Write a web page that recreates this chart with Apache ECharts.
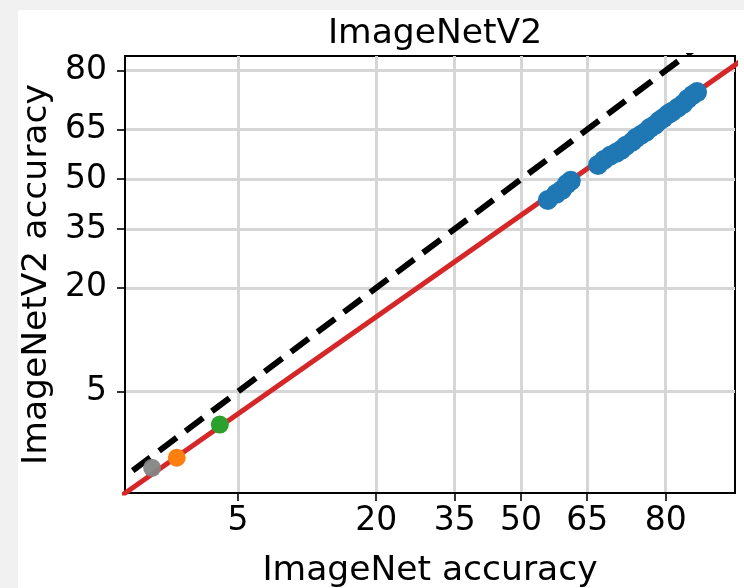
<!DOCTYPE html>
<html><head><meta charset="utf-8">
<script src="https://cdn.jsdelivr.net/npm/echarts@6/dist/echarts.min.js"></script>
<style>html,body{margin:0;padding:0;background:#f1f1f1}#c{width:744px;height:588px}</style>
</head><body><div id="c"></div>
<script>
// ---- data (accuracy in percent) ----
const tickValues = [5, 20, 35, 50, 65, 80];
const xRange = [1.067, 89.33];
const yRange = [0.755, 83.0];
const blueX = [56.2, 58.1, 59.4, 60.5, 61.4, 67.3, 68.5, 69.8, 71.0, 72.0, 72.9, 74.1, 74.8, 75.7, 76.6, 77.3, 78.2, 78.9, 79.6, 80.4, 81.0, 81.9, 82.7, 83.4, 84.1, 84.7];
const blueY = [43.6, 45.5, 46.7, 48.5, 49.5, 54.4, 55.9, 57.2, 58.1, 59.0, 60.2, 61.4, 62.5, 63.4, 64.3, 65.4, 66.3, 67.4, 68.2, 69.3, 69.9, 71.0, 72.0, 73.3, 74.3, 75.0];
const grayPoint = [1.6, 1.27];
const orangePoint = [2.27, 1.55];
const greenPoint = [4.0, 2.87];
const fitLineX = [0.5, 95];
const fitLineY = [0.36, 89.6];
const diagLineX = [1.2, 95];
const diagLineY = [1.2, 95];

// ---- probit helpers ----
function probit(p) {
  const a = [-3.969683028665376e+01, 2.209460984245205e+02, -2.759285104469687e+02, 1.383577518672690e+02, -3.066479806614716e+01, 2.506628277459239e+00];
  const b = [-5.447609879822406e+01, 1.615858368580409e+02, -1.556989798598866e+02, 6.680131188771972e+01, -1.328068155288572e+01];
  const c = [-7.784894002430293e-03, -3.223964580411365e-01, -2.400758277161838e+00, -2.549732539343734e+00, 4.374664141464968e+00, 2.938163982698783e+00];
  const d = [7.784695709041462e-03, 3.224671290700398e-01, 2.445134137142996e+00, 3.754408661907416e+00];
  const pl = 0.02425, ph = 1 - pl;
  let q, r;
  if (p < pl) { q = Math.sqrt(-2 * Math.log(p)); return (((((c[0]*q+c[1])*q+c[2])*q+c[3])*q+c[4])*q+c[5]) / ((((d[0]*q+d[1])*q+d[2])*q+d[3])*q+1); }
  if (p <= ph) { q = p - 0.5; r = q*q; return (((((a[0]*r+a[1])*r+a[2])*r+a[3])*r+a[4])*r+a[5])*q / (((((b[0]*r+b[1])*r+b[2])*r+b[3])*r+b[4])*r+1); }
  q = Math.sqrt(-2 * Math.log(1 - p)); return -(((((c[0]*q+c[1])*q+c[2])*q+c[3])*q+c[4])*q+c[5]) / ((((d[0]*q+d[1])*q+d[2])*q+d[3])*q+1);
}
function cdf(x) {
  const t = 1 / (1 + 0.3275911 * Math.abs(x) / Math.SQRT2);
  const y = 1 - (((((1.061405429*t - 1.453152027)*t) + 1.421413741)*t - 0.284496736)*t + 0.254829592)*t * Math.exp(-x*x/2);
  return x >= 0 ? 0.5 * (1 + y) : 0.5 * (1 - y);
}
const P = v => probit(v / 100);
const pts = (xs, ys) => xs.map((x, i) => [P(x), P(ys[i])]);
const tickPos = tickValues.map(P);
const fmt = v => String(Math.round(cdf(v) * 100));
const FONT = 'DejaVu Sans';

const axisCommon = {
  type: 'value',
  axisLine: { show: true, onZero: false, lineStyle: { color: '#000', width: 2 } },
  axisTick: { show: true, inside: false, length: 8, customValues: tickPos, lineStyle: { color: '#000', width: 1.6 } },
  axisLabel: { customValues: tickPos, formatter: fmt, color: '#000', fontSize: 33, fontFamily: FONT },
  splitLine: { show: true, lineStyle: { color: '#d6d6d6', width: 3 } },
  nameLocation: 'middle',
  nameTextStyle: { color: '#000', fontSize: 34.5, fontFamily: FONT }
};

const chart = echarts.init(document.getElementById('c'), null, { renderer: 'canvas' });
chart.setOption({
  animation: false,
  backgroundColor: 'transparent',
  graphic: [{ type: 'rect', z: -10, shape: { x: 18, y: 10, width: 726, height: 578 }, style: { fill: '#fff' } }],
  title: { text: 'ImageNetV2', left: 430, top: 12, textAlign: 'center', textStyle: { color: '#000', fontSize: 34.5, fontWeight: 'normal', fontFamily: FONT } },
  grid: { left: 125, top: 56, width: 610, height: 437, show: true, borderColor: '#000', borderWidth: 2, backgroundColor: '#fff', containLabel: false, outerBoundsMode: 'none' },
  xAxis: Object.assign({}, axisCommon, {
    min: P(xRange[0]), max: P(xRange[1]), name: 'ImageNet accuracy', nameGap: 61,
    axisLabel: Object.assign({}, axisCommon.axisLabel, { margin: 12 })
  }),
  yAxis: Object.assign({}, axisCommon, {
    min: P(yRange[0]), max: P(yRange[1]), name: 'ImageNetV2 accuracy', nameGap: 69,
    axisLabel: Object.assign({}, axisCommon.axisLabel, { margin: 18 })
  }),
  series: [
    { type: 'line', data: pts(diagLineX, diagLineY), symbol: 'none', clip: true, z: 2,
      lineStyle: { color: '#000', width: 6, type: [22, 11], cap: 'butt' } },
    { type: 'line', data: pts(fitLineX, fitLineY), symbol: 'none', clip: true, z: 3,
      lineStyle: { color: '#d62728', width: 5 } },
    { type: 'scatter', data: pts(blueX, blueY), symbolSize: 20, z: 4, itemStyle: { color: '#1f77b4', opacity: 1 } },
    { type: 'scatter', data: [[P(grayPoint[0]), P(grayPoint[1])]], symbolSize: 18, z: 4, itemStyle: { color: '#858585', opacity: 0.95 } },
    { type: 'scatter', data: [[P(orangePoint[0]), P(orangePoint[1])]], symbolSize: 18, z: 4, itemStyle: { color: '#ff7f0e', opacity: 1 } },
    { type: 'scatter', data: [[P(greenPoint[0]), P(greenPoint[1])]], symbolSize: 18, z: 4, itemStyle: { color: '#2ca02c', opacity: 1 } }
  ]
});
</script></body></html>
